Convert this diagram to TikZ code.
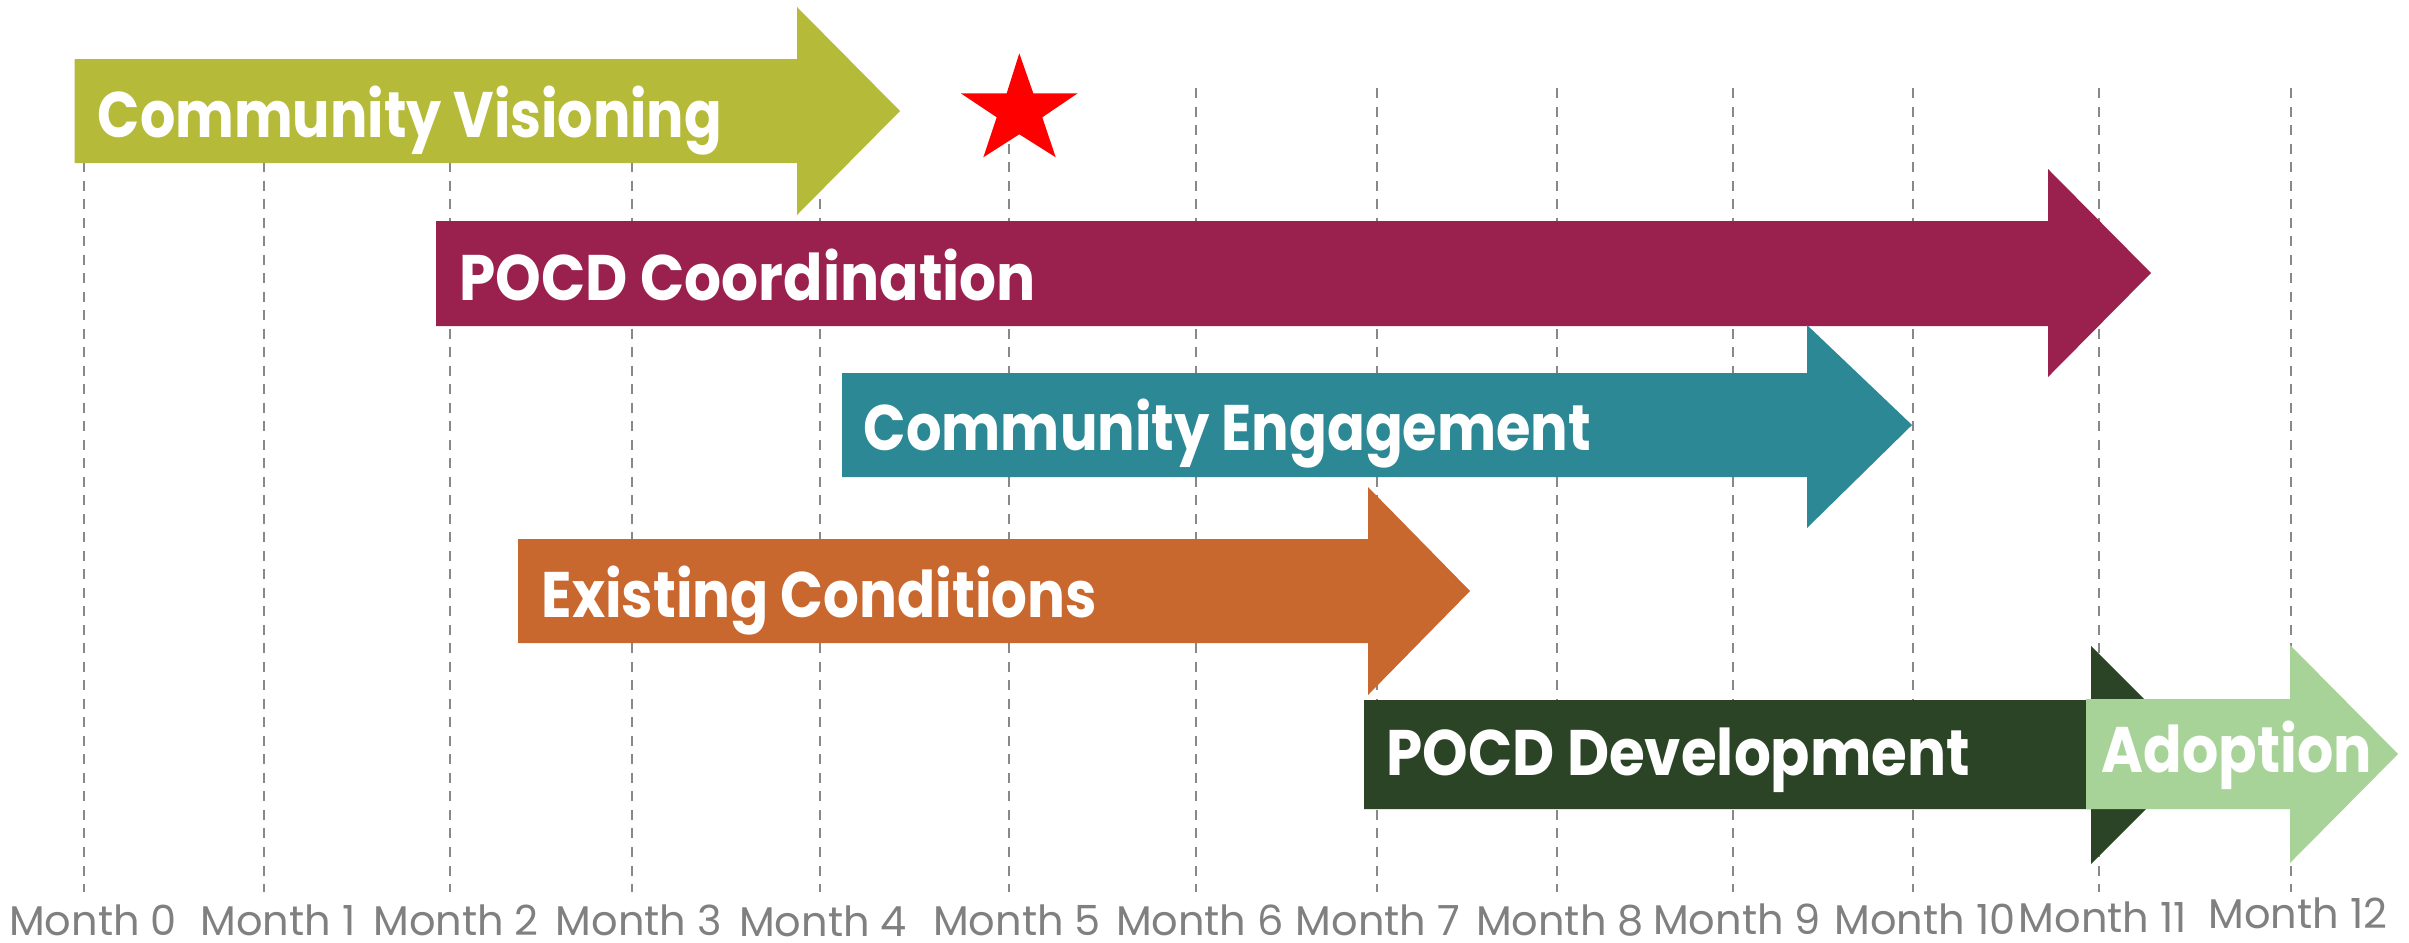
\documentclass[tikz,border=0pt]{standalone}
\usepackage{fontspec}
\setmainfont{Poppins}
\definecolor{cvcol}{HTML}{B5BA38}
\definecolor{pccol}{HTML}{9A214E}
\definecolor{cecol}{HTML}{2B8894}
\definecolor{eccol}{HTML}{C8672E}
\definecolor{pdcol}{HTML}{2A4425}
\definecolor{adcol}{HTML}{A8D398}
\definecolor{gridgray}{HTML}{888888}
\definecolor{txtgray}{HTML}{808080}
\newcommand\fitw[2]{\sbox0{#2}\pgfmathsetmacro\fitratio{#1/\wd0}\scalebox{\fitratio}[1]{\usebox0}}
\begin{document}
\begin{tikzpicture}[x=0.01cm,y=-0.01cm,
  gridline/.style={draw=gridgray,line width=0.026cm,dash pattern=on 0.10cm off 0.085cm},
  phase/.style={white,anchor=base west,inner sep=0,text depth=0pt,font=\bfseries\fontsize{18.3}{18}\selectfont},
  monthlbl/.style={txtgray,anchor=base,inner sep=0,text depth=0pt,font=\fontsize{11.8}{12}\selectfont}]
\useasboundingbox (0,0) rectangle (2409,942);
% grid lines and month labels
\foreach \x/\n/\c/\b in {84/0/93/935,264/1/278/935,450/2/456/935,632/3/639/935,820/4/823/936,1009/5/1017/935,1196/6/1200/935,1377/7/1378/935,1557/8/1560/935,1733/9/1737/934,1913/10/1925/934,2099/11/2103/932,2291/12/2298/928}{
  \draw[gridline] (\x,88) -- (\x,892);
  \node[monthlbl] (m\n) at (\c,\b) {Month \n};
}
% phase arrows
\fill[cvcol] (74.6,59) -- (797,59) -- (797,7) -- (900,111) -- (797,215) -- (797,163) -- (74.6,163) -- cycle;
\fill[pccol] (436,221) -- (2048,221) -- (2048,169) -- (2151,273) -- (2048,377) -- (2048,326) -- (436,326) -- cycle;
\fill[cecol] (842,373) -- (1807,373) -- (1807,325) -- (1912,425) -- (1807,528) -- (1807,477) -- (842,477) -- cycle;
\fill[eccol] (518,539) -- (1368,539) -- (1368,487) -- (1470,591) -- (1368,695) -- (1368,643) -- (518,643) -- cycle;
\fill[pdcol] (1364,700) -- (2091,700) -- (2091,646) -- (2200,755) -- (2091,864) -- (2091,809) -- (1364,809) -- cycle;
\fill[adcol] (2086,699) -- (2290,699) -- (2290,645) -- (2398,754) -- (2290,863) -- (2290,809) -- (2086,809) -- cycle;
% labels
\node[phase] (cv) at (97,137) {\fitw{6.24cm}{Community Visioning}};
\node[phase] (pc) at (459,300) {\fitw{5.76cm}{POCD Coordination}};
\node[phase] (ce) at (863,450) {\fitw{7.27cm}{Community Engagement}};
\node[phase] (ec) at (541,617) {\fitw{5.55cm}{Existing Conditions}};
\node[phase] (pd) at (1386,775) {\fitw{5.83cm}{POCD Development}};
\node[phase] (ad) at (2101,772) {\fitw{2.70cm}{Adoption}};
% star
\fill[red] (1019.3,53.3) -- (1033.3,93.3) -- (1077.7,93.3) -- (1042.3,117.3) -- (1055.7,157.3) -- (1019.3,134.3) -- (983.3,157.3) -- (996.7,117.3) -- (960.7,93.3) -- (1006.7,93.3) -- cycle;
\end{tikzpicture}
\end{document}
